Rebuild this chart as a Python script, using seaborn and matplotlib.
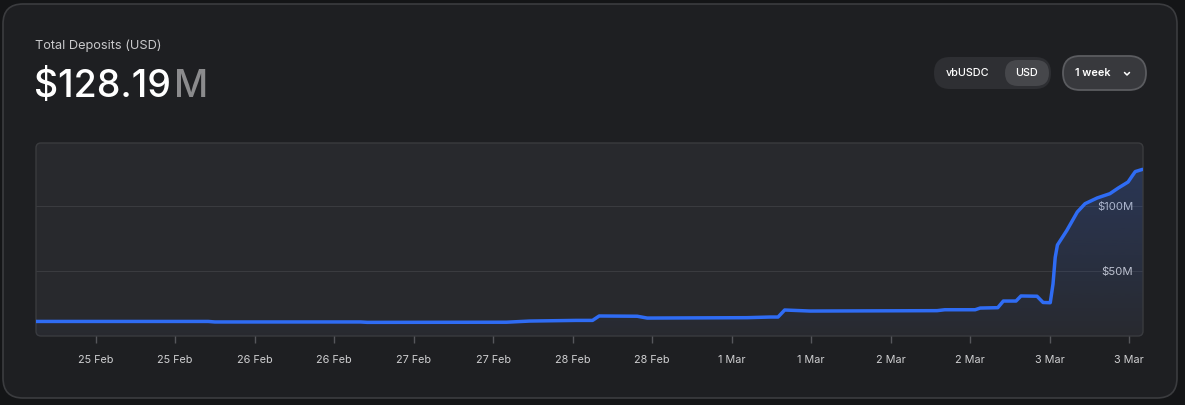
import numpy as np
import pandas as pd
import seaborn as sns
import matplotlib.pyplot as plt
import matplotlib.dates as mdates
from matplotlib.patches import FancyBboxPatch
from matplotlib.ticker import FuncFormatter

# total deposits, millions of USD
times = ['2025-02-24 15:00', '2025-02-25 17:00', '2025-02-25 18:00', '2025-02-26 16:00',
         '2025-02-26 17:00', '2025-02-27 14:00', '2025-02-27 17:30', '2025-02-28 00:30',
         '2025-02-28 03:00', '2025-02-28 04:00', '2025-02-28 09:45', '2025-02-28 11:15',
         '2025-03-01 02:20', '2025-03-01 05:50', '2025-03-01 07:00', '2025-03-01 08:00',
         '2025-03-01 11:50', '2025-03-02 07:00', '2025-03-02 08:10', '2025-03-02 12:45',
         '2025-03-02 13:30', '2025-03-02 16:10', '2025-03-02 17:00', '2025-03-02 18:55',
         '2025-03-02 19:40', '2025-03-02 22:05', '2025-03-02 23:00', '2025-03-03 00:05',
         '2025-03-03 00:30', '2025-03-03 00:50', '2025-03-03 01:10', '2025-03-03 02:35',
         '2025-03-03 04:10', '2025-03-03 05:20', '2025-03-03 07:10', '2025-03-03 09:05',
         '2025-03-03 10:20', '2025-03-03 11:50', '2025-03-03 12:30', '2025-03-03 12:55',
         '2025-03-03 14:00']
deposits = [11.2, 11.2, 10.8, 10.8,
            10.5, 10.6, 11.5, 12.0,
            12.0, 15.4, 15.2, 13.8,
            14.1, 14.6, 14.6, 20.0,
            19.2, 19.5, 20.2, 20.2,
            21.5, 21.8, 26.9, 26.9,
            30.8, 30.6, 25.8, 25.6,
            40.0, 60.5, 70.0, 81.2,
            95.4, 101.8, 106.2, 109.5,
            113.8, 118.5, 123.5, 126.5,
            128.2]
y_ticks = [50, 100]

df = pd.DataFrame({'time': pd.to_datetime(times), 'value': deposits})

sns.set_style('dark')
plt.rcParams['font.family'] = ['Inter', 'DejaVu Sans']

W, H = 1185, 405
fig = plt.figure(figsize=(W / 100, H / 100), dpi=100)
fig.patch.set_facecolor('#141517')

# background layer in pixel units: card, buttons, headline
bg = fig.add_axes([0, 0, 1, 1])
bg.set_xlim(0, W)
bg.set_ylim(H, 0)
bg.axis('off')

bg.add_patch(FancyBboxPatch((3, 4), 1174, 394, boxstyle='round,pad=0,rounding_size=20',
                            fc='#1e1f22', ec='#3b3c3f', lw=1.2))
bg.add_patch(FancyBboxPatch((36, 143), 1107, 193, boxstyle='round,pad=0,rounding_size=5',
                            fc='#28292d', ec='#3a3b3e', lw=1.0))

bg.text(35, 46, 'Total Deposits (USD)', color='#c8c8ca', fontsize=9.2, va='center')
t = bg.text(34, 87, '$128.19', color='white', fontsize=27, va='center', fontweight='medium')
fig.canvas.draw()
bb = t.get_window_extent().transformed(bg.transData.inverted())
bg.text(bb.x1 + 3, 87, 'M', color='#8b8b8d', fontsize=27, va='center', fontweight='medium')

# currency toggle
bg.add_patch(FancyBboxPatch((934, 57), 117, 32, boxstyle='round,pad=0,rounding_size=16',
                            fc='#2e2f33', ec='none'))
bg.add_patch(FancyBboxPatch((1005, 60), 44, 26, boxstyle='round,pad=0,rounding_size=13',
                            fc='#46474b', ec='none'))
bg.text(968, 73.5, 'vbUSDC', color='white', fontsize=7.8, ha='center', va='center', fontweight='medium')
bg.text(1027, 73.5, 'USD', color='white', fontsize=7.8, ha='center', va='center', fontweight='medium')

# period selector
bg.add_patch(FancyBboxPatch((1063, 56), 83, 34, boxstyle='round,pad=0,rounding_size=17',
                            fc='#38393d', ec='#5b5c60', lw=1.3))
bg.text(1093, 73.5, '1 week', color='white', fontsize=7.8, ha='center', va='center', fontweight='semibold')
bg.plot([1124.5, 1127, 1129.5], [72.5, 75, 72.5], color='white', lw=1.1)

# chart
ax = fig.add_axes([36 / W, (H - 336) / H, 1107 / W, 193 / H])
ax.set_facecolor('none')
for s in ax.spines.values():
    s.set_visible(False)

line_color = '#2f6cf4'
sns.lineplot(data=df, x='time', y='value', ax=ax, color=line_color, linewidth=2.5,
             solid_joinstyle='round', solid_capstyle='round', zorder=3)

x0, x1 = pd.Timestamp('2025-02-24 15:00'), pd.Timestamp('2025-03-03 14:05')
ax.set_xlim(x0, x1)
ax.set_ylim(0, 148.5)

# gradient fill under the line
poly = ax.fill_between(df['time'], df['value'], 0, color='none', lw=0)
grad = np.zeros((256, 1, 4))
grad[:, 0, 0] = 47 / 255
grad[:, 0, 1] = 90 / 255
grad[:, 0, 2] = 190 / 255
grad[:, 0, 3] = np.linspace(0.32, 0.02, 256)
im = ax.imshow(grad, aspect='auto', origin='upper',
               extent=[mdates.date2num(x0), mdates.date2num(x1), 0, 148.5], zorder=2)
im.set_clip_path(poly.get_paths()[0], transform=ax.transData)

ax.xaxis.set_major_locator(mdates.HourLocator(byhour=[0, 12]))
ax.xaxis.set_major_formatter(mdates.DateFormatter('%-d %b'))
ax.tick_params(axis='x', colors='#56575b', length=5, width=1, pad=9, labelcolor='#cfcfd1',
               labelsize=7.8, bottom=True)

ax.set_yticks(y_ticks)
ax.yaxis.tick_right()
ax.yaxis.set_major_formatter(FuncFormatter(lambda v, p: f'${v:.0f}M'))
ax.tick_params(axis='y', length=0, pad=-7, labelcolor='#cfcfd1', labelsize=8.2)
for lbl in ax.get_yticklabels():
    lbl.set_ha('right')
    lbl.set_zorder(4)
ax.grid(axis='y', color='#3a3b3f', lw=0.8)
ax.grid(axis='x', visible=False)
ax.set_xlabel('')
ax.set_ylabel('')

fig.savefig('out.png', dpi=100, facecolor=fig.get_facecolor())
